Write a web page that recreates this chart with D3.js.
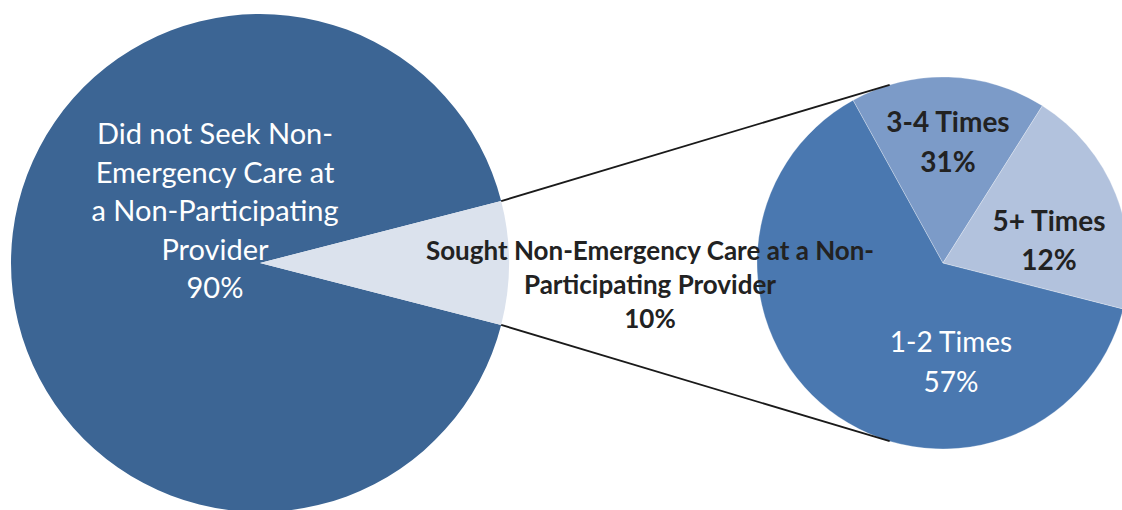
<!DOCTYPE html>
<html lang="en">
<head>
    <meta charset="UTF-8">
    <title>Pie of Pie</title>
    <script src="https://d3js.org/d3.v7.min.js"></script>
    <style>
        body, html {
            margin: 0;
            padding: 0;
            background: #fff;
            overflow: hidden;
        }
        text {
            font-family: Lato, "Open Sans", sans-serif;
        }
    </style>
</head>
<body>
<div id="chart"></div>
<script>
    // main pie: shares as drawn in the picture, labels as printed
    const mainNames = ["Did not Seek Non-Emergency Care at a Non-Participating Provider",
                       "Sought Non-Emergency Care at a Non-Participating Provider"];
    const mainShares = [92, 8];
    const mainLabels = [["Did not Seek Non-", "Emergency Care at", "a Non-Participating", "Provider", "90%"],
                        ["Sought Non-Emergency Care at a Non-", "Participating Provider", "10%"]];

    // secondary pie (breakdown of the "sought" slice)
    const subNames = ["1-2 Times", "3-4 Times", "5+ Times"];
    const subShares = [63, 17, 20];
    const subLabels = [["1-2 Times", "57%"], ["3-4 Times", "31%"], ["5+ Times", "12%"]];

    const width = 1122, height = 510;
    const mainC = {x: 260, y: 263, r: 249};
    const subC = {x: 943, y: 263, r: 186};

    const mainColor = d3.scaleOrdinal().domain(mainNames).range(["#3c6594", "#dbe2ed"]);
    const subColor = d3.scaleOrdinal().domain(subNames).range(["#4a78b0", "#7c9bc8", "#b2c2dd"]);

    const svg = d3.select("#chart").append("svg")
        .attr("width", width)
        .attr("height", height);

    // small slice centred on 3 o'clock
    const smallFrac = mainShares[1] / d3.sum(mainShares);
    const mainPie = d3.pie().sort(null)
        .startAngle(Math.PI / 2 + smallFrac * Math.PI)
        .endAngle(Math.PI / 2 + smallFrac * Math.PI + 2 * Math.PI);
    const subStart = 104.3 * Math.PI / 180;
    const subPie = d3.pie().sort(null)
        .startAngle(subStart)
        .endAngle(subStart + 2 * Math.PI);

    const mainArcs = mainPie(mainShares);
    mainArcs.forEach((a, i) => a.name = mainNames[i]);
    const subArcs = subPie(subShares);
    subArcs.forEach((a, i) => a.name = subNames[i]);

    const mainArc = d3.arc().innerRadius(0).outerRadius(mainC.r);
    const subArc = d3.arc().innerRadius(0).outerRadius(subC.r);

    const gMain = svg.append("g").attr("transform", `translate(${mainC.x},${mainC.y})`);
    gMain.selectAll("path")
        .data(mainArcs)
        .enter().append("path")
        .attr("d", mainArc)
        .attr("fill", d => mainColor(d.name));

    const gSub = svg.append("g").attr("transform", `translate(${subC.x},${subC.y})`);
    gSub.selectAll("path")
        .data(subArcs)
        .enter().append("path")
        .attr("d", subArc)
        .attr("fill", d => subColor(d.name))
        .attr("stroke", "#fff")
        .attr("stroke-opacity", 0.35)
        .attr("stroke-width", 0.8);

    // connector lines: from edges of small slice, tangent to secondary pie
    const small = mainArcs[1];
    function edgePoint(angle) {
        return [mainC.x + mainC.r * Math.sin(angle), mainC.y - mainC.r * Math.cos(angle)];
    }
    function tangentPoint(p, upper) {
        const dx = p[0] - subC.x, dy = p[1] - subC.y;
        const d = Math.sqrt(dx * dx + dy * dy);
        const base = Math.atan2(dy, dx);
        const off = Math.acos(subC.r / d);
        const a = upper ? base + off : base - off;
        return [subC.x + subC.r * Math.cos(a), subC.y + subC.r * Math.sin(a)];
    }
    const pTop = edgePoint(small.startAngle);
    const pBot = edgePoint(small.endAngle);
    [[pTop, tangentPoint(pTop, true)], [pBot, tangentPoint(pBot, false)]].forEach(seg => {
        svg.append("line")
            .attr("x1", seg[0][0]).attr("y1", seg[0][1])
            .attr("x2", seg[1][0]).attr("y2", seg[1][1])
            .attr("stroke", "#1a1a1a")
            .attr("stroke-width", 1.8);
    });

    // labels
    function addLabel(lines, cx, y0, step, size, weight, fill) {
        const t = svg.append("text")
            .attr("text-anchor", "middle")
            .attr("font-size", size)
            .attr("font-weight", weight)
            .attr("fill", fill);
        lines.forEach((s, i) => {
            t.append("tspan").attr("x", cx).attr("y", y0 + i * step).text(s);
        });
    }
    addLabel(mainLabels[0], mainC.x - 45, 144, 38.6, 29, 400, "#fff");
    addLabel(mainLabels[1], 650, 260, 34, 26, 700, "#222");
    addLabel(subLabels[1], subC.x + 5, 132, 39.5, 28, 700, "#222");
    addLabel(subLabels[2], subC.x + 106, 231, 38.5, 28, 700, "#222");
    addLabel(subLabels[0], subC.x + 8, 352, 40, 28, 400, "#fff");
</script>
</body>
</html>
